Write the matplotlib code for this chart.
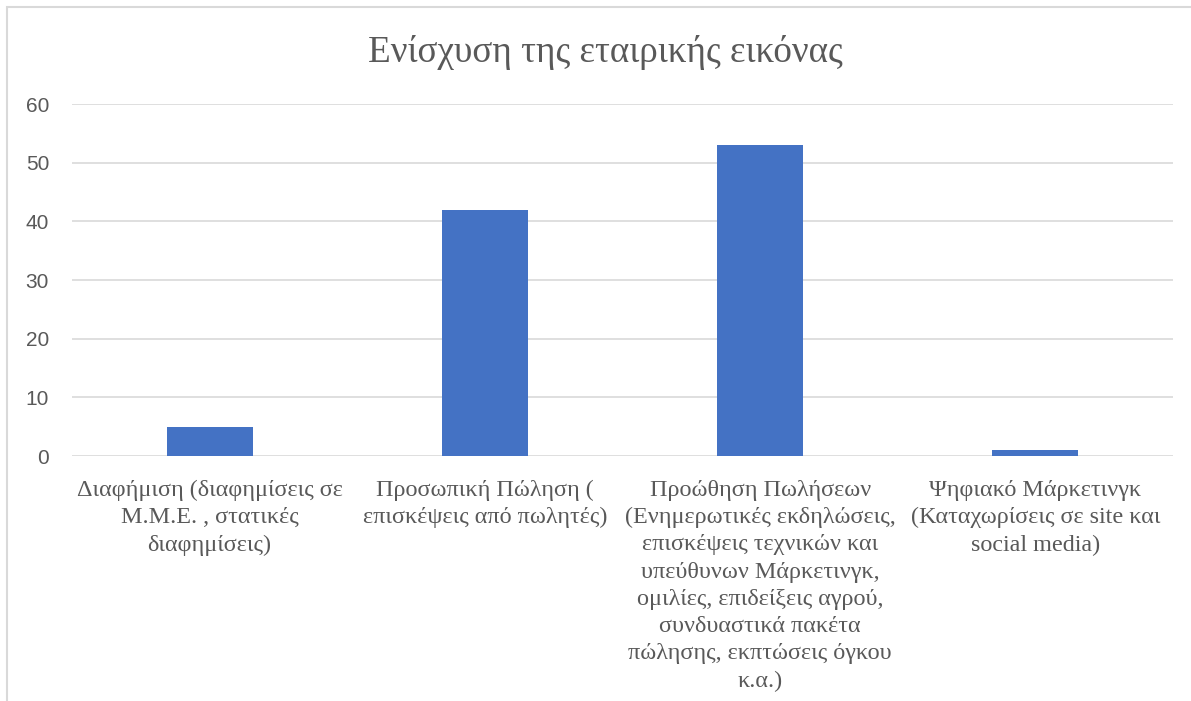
import numpy as np
import matplotlib.pyplot as plt
from matplotlib.patches import Rectangle

categories = [
    "Διαφήμιση (διαφημίσεις σε\nΜ.Μ.Ε. , στατικές\nδιαφημίσεις)",
    "Προσωπική Πώληση (\nεπισκέψεις από πωλητές)",
    "Προώθηση Πωλήσεων\n(Ενημερωτικές εκδηλώσεις,\nεπισκέψεις τεχνικών και\n"
    "υπεύθυνων Μάρκετινγκ,\nομιλίες, επιδείξεις αγρού,\nσυνδυαστικά πακέτα\n"
    "πώλησης, εκπτώσεις όγκου\nκ.α.)",
    "Ψηφιακό Μάρκετινγκ\n(Καταχωρίσεις σε site και\nsocial media)",
]
values = [5, 42, 53, 1]
yticks = [0, 10, 20, 30, 40, 50, 60]
title = "Ενίσχυση της εταιρικής εικόνας"

W, H = 1191, 701
text_grey = "#595959"
bar_blue = "#4472c4"
grid_grey = "#d9d9d9"

fig = plt.figure(figsize=(W / 100, H / 100), dpi=100)
fig.patch.set_facecolor("white")

# chart area frame (only left and top edges are in view)
fig.patches.append(Rectangle((7 / W, -0.1), 1.2, 1.1 - 7 / H,
                             transform=fig.transFigure, fill=False,
                             edgecolor=grid_grey, linewidth=1.5))

left, right = 72 / W, 1173 / W
bottom, top = 1 - 456 / H, 1 - 104 / H
ax = fig.add_axes([left, bottom, right - left, top - bottom])

x = np.arange(len(values))
ax.bar(x, values, width=0.313, color=bar_blue, zorder=3)

ax.set_xlim(-0.5, len(values) - 0.5)
ax.set_ylim(0, 60)
ax.set_yticks(yticks)
ax.set_yticklabels([str(t) for t in yticks], family="Liberation Sans",
                   fontsize=15, color=text_grey)
ax.yaxis.grid(True, color=grid_grey, linewidth=1.2, zorder=0)
ax.tick_params(axis="y", length=0, pad=16.5)
ax.tick_params(axis="x", length=0, pad=17)
ax.set_xticks(x)
ax.set_xticklabels(categories, family="Liberation Serif", fontsize=17.4,
                   color=text_grey, linespacing=1.39, va="top")
for s in ax.spines.values():
    s.set_visible(False)
ax.set_facecolor("none")

fig.text(605 / W, 1 - 52 / H, title, family="Liberation Serif", fontsize=26.7,
         color=text_grey, ha="center", va="center")

fig.savefig("out.png", dpi=100)
